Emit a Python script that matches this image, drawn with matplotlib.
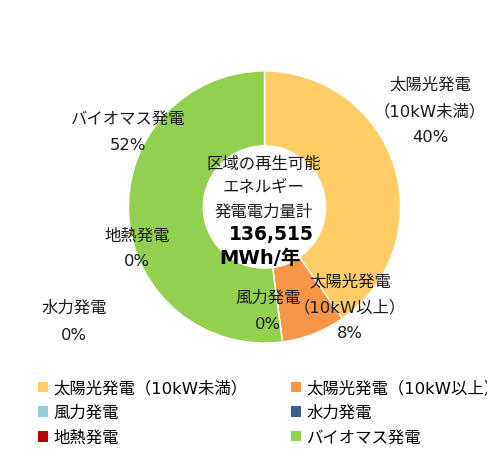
import matplotlib
matplotlib.use("Agg")
import matplotlib.pyplot as plt
from matplotlib.patches import Patch

plt.rcParams['font.family'] = ['DejaVu Sans', 'Noto Sans CJK JP']

categories = ["太陽光発電（10kW未満）", "太陽光発電（10kW以上）", "風力発電", "水力発電", "地熱発電", "バイオマス発電"]
shares = [40.3, 7.6, 0.0, 0.0, 0.0, 52.1]
pct_labels = ["40%", "8%", "0%", "0%", "0%", "52%"]
colors = ["#FFCC66", "#F79646", "#92CDDC", "#366092", "#C00000", "#92D050"]
total_text = "136,515"
unit_text = "MWh/年"
center_title = ["区域の再生可能", "エネルギー", "発電電力量計"]

W, H = 487, 452
fig = plt.figure(figsize=(W / 100, H / 100), dpi=100)

cx, cy, r = 264.5, 208, 136
ax = fig.add_axes([(cx - r) / W, 1 - (cy + r) / H, 2 * r / W, 2 * r / H])
wedges, _ = ax.pie(shares, colors=colors, startangle=90, counterclock=False, radius=1,
                   wedgeprops=dict(width=0.55, edgecolor="white", linewidth=1))
ax.set_xlim(-1, 1)
ax.set_ylim(-1, 1)
ax.set_aspect("equal")
ax.axis("off")

def ptext(x, y, s, color="#1a1a1a", **kw):
    fig.text(x / W, 1 - y / H, s, ha="center", va="center", color=color, **kw)

fs = 11.8
label_specs = [
    (430, [85, 112], ["太陽光発電", "（10kW未満）"], 138, 0),
    (350, [282, 308], ["太陽光発電", "（10kW以上）"], 334, 1),
    (268, [298], ["風力発電"], 325, 2),
    (74, [308], ["水力発電"], 336, 3),
    (137, [236], ["地熱発電"], 262, 4),
    (128, [119], ["バイオマス発電"], 146, 5),
]
for x, ys, names, yp, idx in label_specs:
    for yy, nm in zip(ys, names):
        ptext(x, yy, nm, fontsize=fs)
    ptext(x, yp, pct_labels[idx], fontsize=fs)

for yy, s in zip([164, 188, 212], center_title):
    ptext(264, yy, s, fontsize=fs)
ptext(271, 235, total_text, fontsize=13.5, fontweight="bold", color="black")
ptext(260, 259, unit_text, fontsize=14, fontweight="bold", color="black")

order = [0, 2, 4, 1, 3, 5]
handles = [Patch(facecolor=colors[i], edgecolor="none") for i in order]
labels = [categories[i] for i in order]
fig.legend(handles, labels, ncol=2, loc="upper left", bbox_to_anchor=(38 / W, 1 - 381 / H),
           frameon=False, fontsize=fs, handlelength=0.6, handleheight=0.6, handletextpad=0.35,
           columnspacing=2.65, labelspacing=0.58, borderpad=0, borderaxespad=0)

fig.savefig("out.png", dpi=100)
